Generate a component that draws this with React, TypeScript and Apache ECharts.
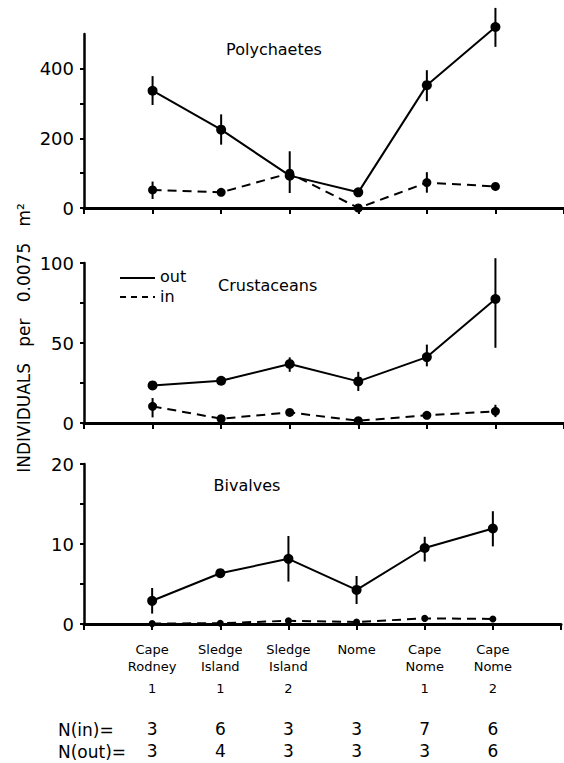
import React, { useEffect, useRef } from "react";
import * as echarts from "echarts";

// ---- data ----
const siteLine1 = ["Cape", "Sledge", "Sledge", "Nome", "Cape", "Cape"];
const siteLine2 = ["Rodney", "Island", "Island", "", "Nome", "Nome"];
const siteNumber = ["1", "1", "2", "", "1", "2"];
const nIn = [3, 6, 3, 3, 7, 6];
const nOut = [3, 4, 3, 3, 3, 6];

const polyOut = [337, 225, 93, 45, 353, 520];
const polyOutLow = [296, 182, 43, 33, 307, 463];
const polyOutHigh = [379, 269, 163, 57, 396, 575];
const polyIn = [52, 45, 100, 0, 73, 62];
const polyInLow = [26, 37, 88, 0, 44, 50];
const polyInHigh = [76, 55, 112, 0, 103, 73];

const crustOut = [23.5, 26.4, 36.9, 26, 41.2, 77.5];
const crustOutLow = [22, 24, 32, 20, 35.4, 47];
const crustOutHigh = [25, 29, 41, 32, 49, 103];
const crustIn = [10.4, 2.7, 6.6, 1.4, 4.8, 7.3];
const crustInLow = [3.5, 1, 5, 0.5, 3, 3.7];
const crustInHigh = [15.6, 4.5, 8, 2.5, 6.5, 11.4];

const bivOut = [2.9, 6.35, 8.15, 4.26, 9.5, 11.94];
const bivOutLow = [1.3, 6.0, 5.3, 2.5, 7.8, 9.7];
const bivOutHigh = [4.5, 6.7, 11.0, 6.0, 10.9, 14.1];
const bivIn = [0.05, 0.1, 0.4, 0.25, 0.7, 0.63];
const bivInLow = [0.05, 0.1, 0.4, 0.25, 0.7, 0.63];
const bivInHigh = [0.05, 0.1, 0.4, 0.25, 0.7, 0.63];

const panelTitles = ["Polychaetes", "Crustaceans", "Bivalves"];
const yMax = [500, 100, 20];
const yTickStep = [100, 25, 5];
const yLabelStep = [200, 50, 10];

const FONT = "DejaVu Sans";

export default function App() {
  const ref = useRef<HTMLDivElement>(null);

  useEffect(() => {
    if (!ref.current) return;
    const chart = echarts.init(ref.current, null, { renderer: "svg" });

    const panels = [
      { out: polyOut, outLo: polyOutLow, outHi: polyOutHigh, inn: polyIn, inLo: polyInLow, inHi: polyInHigh },
      { out: crustOut, outLo: crustOutLow, outHi: crustOutHigh, inn: crustIn, inLo: crustInLow, inHi: crustInHigh },
      { out: bivOut, outLo: bivOutLow, outHi: bivOutHigh, inn: bivIn, inLo: bivInLow, inHi: bivInHigh },
    ];

    const grids = [
      { left: 84, right: 0, top: 34, height: 174 },
      { left: 84, right: 0, top: 263, height: 160 },
      { left: 84, right: 0, top: 464, height: 160 },
    ];

    const baseX = (gi: number) => ({
      type: "value",
      gridIndex: gi,
      min: 0,
      max: 7,
      interval: 1,
      splitLine: { show: false },
      axisLine: { show: true, onZero: false, lineStyle: { color: "#000", width: 3 } },
      axisTick: { show: true, inside: false, length: 6, lineStyle: { color: "#000", width: 2 } },
    });

    const xAxes: any[] = [
      { ...baseX(0), axisLabel: { show: false } },
      { ...baseX(1), axisLabel: { show: false } },
      {
        ...baseX(2),
        axisLabel: {
          show: true,
          margin: 17,
          formatter: (v: number) => {
            const i = Math.round(v) - 1;
            if (i < 0 || i >= siteLine1.length) return "";
            return `{n|${siteLine1[i]}}\n{n|${siteLine2[i] || " "}}\n{s|${siteNumber[i] || " "}}`;
          },
          rich: {
            n: { fontFamily: FONT, fontSize: 13, lineHeight: 17, color: "#000" },
            s: { fontFamily: FONT, fontSize: 13, lineHeight: 27, color: "#000" },
          },
        },
      },
      {
        type: "value",
        gridIndex: 2,
        min: 0,
        max: 7,
        interval: 1,
        position: "bottom",
        offset: 88,
        splitLine: { show: false },
        axisLine: { show: false },
        axisTick: { show: false },
        axisLabel: {
          margin: 8,
          fontFamily: FONT,
          fontSize: 17,
          color: "#000",
          formatter: (v: number) => {
            const i = Math.round(v) - 1;
            return i >= 0 && i < nIn.length ? String(nIn[i]) : "";
          },
        },
      },
      {
        type: "value",
        gridIndex: 2,
        min: 0,
        max: 7,
        interval: 1,
        position: "bottom",
        offset: 110,
        splitLine: { show: false },
        axisLine: { show: false },
        axisTick: { show: false },
        axisLabel: {
          margin: 8,
          fontFamily: FONT,
          fontSize: 17,
          color: "#000",
          formatter: (v: number) => {
            const i = Math.round(v) - 1;
            return i >= 0 && i < nOut.length ? String(nOut[i]) : "";
          },
        },
      },
    ];

    const yAxes = [0, 1, 2].map((gi) => ({
      type: "value",
      gridIndex: gi,
      min: 0,
      max: yMax[gi],
      interval: yTickStep[gi],
      splitLine: { show: false },
      axisLine: { show: true, lineStyle: { color: "#000", width: 2.5 } },
      axisTick: { show: true, inside: false, length: 4, lineStyle: { color: "#000", width: 2 } },
      axisLabel: {
        margin: 10,
        fontFamily: FONT,
        fontSize: 18,
        color: "#000",
        showMaxLabel: gi !== 0,
        formatter: (v: number) => (v % yLabelStep[gi] === 0 ? String(v) : ""),
      },
    }));

    const errRender = (params: any, api: any) => {
      const x = api.value(0);
      const p1 = api.coord([x, api.value(1)]);
      const p2 = api.coord([x, api.value(2)]);
      return {
        type: "line",
        shape: { x1: p1[0], y1: p1[1], x2: p2[0], y2: p2[1] },
        style: { stroke: "#000", lineWidth: 2 },
      };
    };

    const series: any[] = [];
    panels.forEach((p, gi) => {
      series.push({
        type: "custom",
        xAxisIndex: gi,
        yAxisIndex: gi,
        renderItem: errRender,
        encode: { x: 0, y: [1, 2] },
        clip: false,
        data: p.out.map((_, i) => [i + 1, p.outLo[i], p.outHi[i]]),
        z: 3,
      });
      series.push({
        type: "custom",
        xAxisIndex: gi,
        yAxisIndex: gi,
        renderItem: errRender,
        encode: { x: 0, y: [1, 2] },
        clip: false,
        data: p.inn.map((_, i) => [i + 1, p.inLo[i], p.inHi[i]]),
        z: 3,
      });
      series.push({
        type: "line",
        name: "out",
        xAxisIndex: gi,
        yAxisIndex: gi,
        data: p.out.map((v, i) => [i + 1, v]),
        symbol: "circle",
        symbolSize: 10,
        itemStyle: { color: "#000" },
        lineStyle: { color: "#000", width: 2, type: "solid" },
        clip: false,
        z: 4,
      });
      series.push({
        type: "line",
        name: "in",
        xAxisIndex: gi,
        yAxisIndex: gi,
        data: p.inn.map((v, i) => [i + 1, v]),
        symbol: "circle",
        symbolSize: gi === 2 ? 7 : 9,
        itemStyle: { color: "#000" },
        lineStyle: { color: "#000", width: 2, type: [9, 6] },
        clip: false,
        z: 4,
      });
    });

    const txt = (text: string, x: number, y: number, size: number, align = "left") => ({
      type: "text",
      x,
      y,
      style: {
        text,
        fontFamily: FONT,
        fontSize: size,
        fill: "#000",
        align,
        verticalAlign: "middle",
      },
    });

    chart.setOption({
      animation: false,
      backgroundColor: "#fff",
      grid: grids,
      xAxis: xAxes,
      yAxis: yAxes,
      series,
      graphic: [
        txt(panelTitles[0], 274, 49, 16, "center"),
        txt(panelTitles[1], 218, 285, 16, "left"),
        txt(panelTitles[2], 247, 485, 16, "center"),
        { type: "line", shape: { x1: 120, y1: 278, x2: 155, y2: 278 }, style: { stroke: "#000", lineWidth: 2 } },
        { type: "line", shape: { x1: 120, y1: 297, x2: 155, y2: 297 }, style: { stroke: "#000", lineWidth: 2, lineDash: [6, 5] } },
        txt("out", 160, 276, 16),
        txt("in", 160, 296, 16),
        txt("N(in)=", 58, 730, 17),
        txt("N(out)=", 58, 752, 17),
        {
          type: "text",
          x: 24,
          y: 338,
          rotation: Math.PI / 2,
          style: {
            text: "INDIVIDUALS   per   0.0075   m²",
            fontFamily: FONT,
            fontSize: 17,
            fill: "#000",
            align: "center",
            verticalAlign: "middle",
          },
        },
      ],
    });

    return () => chart.dispose();
  }, []);

  return <div ref={ref} style={{ position: "fixed", left: 0, top: 0, width: 564, height: 763 }} />;
}
